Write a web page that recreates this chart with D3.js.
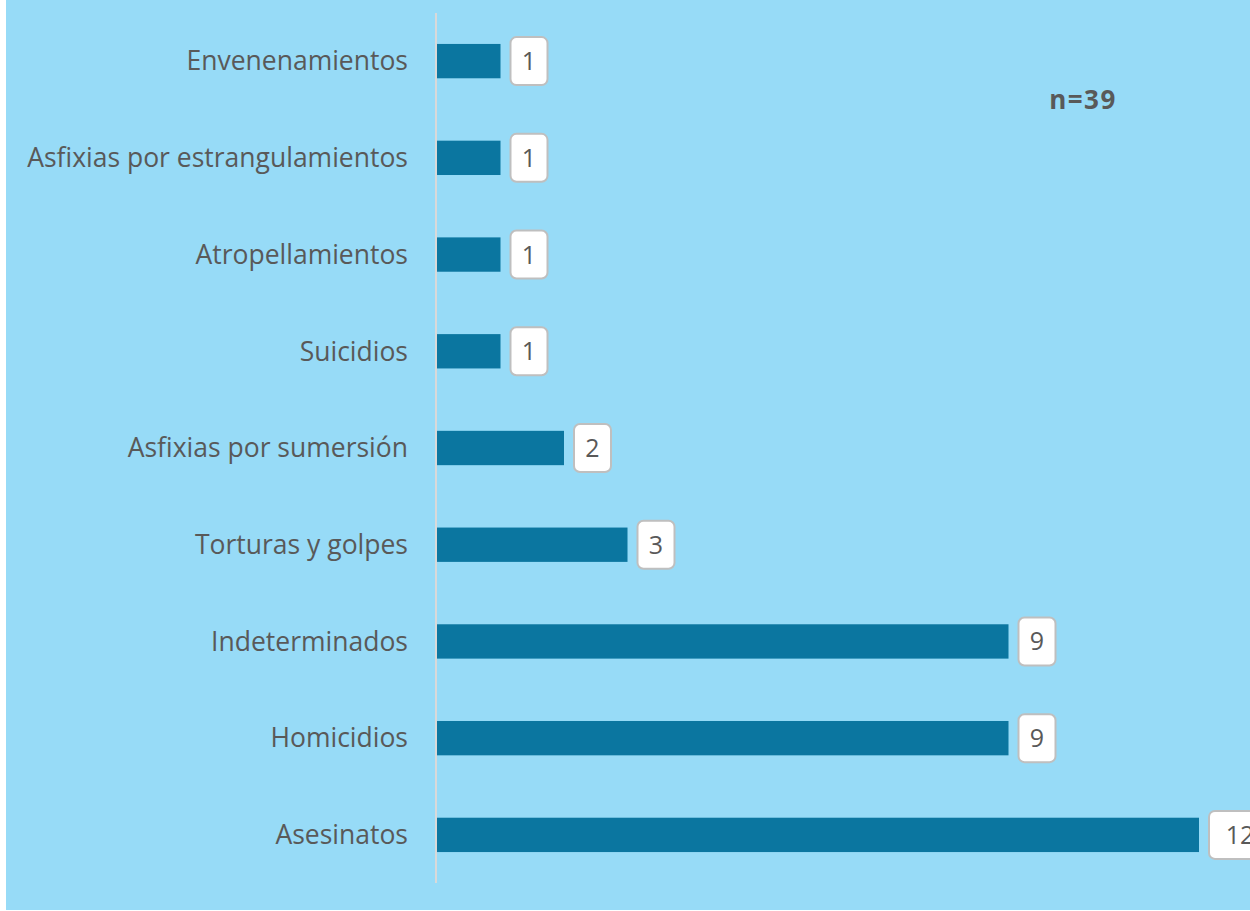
<!DOCTYPE html>
<html>
<head>
<meta charset="utf-8">
<script src="https://cdn.jsdelivr.net/npm/d3@7/dist/d3.min.js"></script>
<style>
  body { margin: 0; background: #fff; }
  svg { display: block; }
</style>
</head>
<body>
<script>
// categories top to bottom and their counts
var categories = ["Envenenamientos", "Asfixias por estrangulamientos", "Atropellamientos",
                  "Suicidios", "Asfixias por sumersión", "Torturas y golpes",
                  "Indeterminados", "Homicidios", "Asesinatos"];
var values = [1, 1, 1, 1, 2, 3, 9, 9, 12];
var totalLabel = "n=39";

var W = 1250, H = 911;
var svg = d3.select("body").append("svg").attr("width", W).attr("height", H);

// panel background
svg.append("rect").attr("x", 6).attr("y", 0).attr("width", W - 6).attr("height", 910)
   .attr("fill", "#97dbf7");

var x = d3.scaleLinear().domain([0, 12]).range([437, 1199]);
var y = d3.scaleBand().domain(categories).range([13, 883]).paddingInner(0.645).paddingOuter(0.32);

// axis line
svg.append("line").attr("x1", 436).attr("x2", 436).attr("y1", 13).attr("y2", 883)
   .attr("stroke", "#d9d9d9").attr("stroke-width", 2);

// category labels
svg.selectAll("text.cat").data(categories).enter().append("text")
   .attr("class", "cat")
   .attr("x", 408)
   .attr("y", function(d) { return y(d) + y.bandwidth() / 2; })
   .attr("dy", "0.35em")
   .attr("text-anchor", "end")
   .style("font-family", "'Open Sans', sans-serif")
   .style("font-size", "26.5px")
   .style("fill", "#595959")
   .text(function(d) { return d; });

// bars
svg.selectAll("rect.bar").data(values).enter().append("rect")
   .attr("class", "bar")
   .attr("x", x(0))
   .attr("y", function(d, i) { return y(categories[i]); })
   .attr("width", function(d) { return x(d) - x(0); })
   .attr("height", y.bandwidth())
   .attr("fill", "#0b76a0");

// value boxes
var boxes = svg.selectAll("g.val").data(values).enter().append("g")
   .attr("class", "val")
   .attr("transform", function(d, i) {
     return "translate(" + (x(d) + 10) + "," + (y(categories[i]) + y.bandwidth() / 2) + ")";
   });
boxes.append("rect")
   .attr("x", 0).attr("y", -24)
   .attr("width", function(d) { return d >= 10 ? 62 : 37; })
   .attr("height", 48)
   .attr("rx", 6)
   .attr("fill", "#fff")
   .attr("stroke", "#bfbfbf")
   .attr("stroke-width", 2);
boxes.append("text")
   .attr("x", function(d) { return d >= 10 ? 31 : 18.5; })
   .attr("dy", "0.36em")
   .attr("text-anchor", "middle")
   .style("font-family", "'Open Sans', sans-serif")
   .style("font-size", "25px")
   .style("fill", "#595959")
   .text(function(d) { return d; });

// total
svg.append("text")
   .attr("x", 1083).attr("y", 100)
   .attr("dy", "0.35em")
   .attr("text-anchor", "middle")
   .style("font-family", "'Open Sans', sans-serif")
   .style("font-size", "26px")
   .style("font-weight", "bold")
   .style("letter-spacing", "1.5px")
   .style("fill", "#595959")
   .text(totalLabel);
</script>
</body>
</html>
